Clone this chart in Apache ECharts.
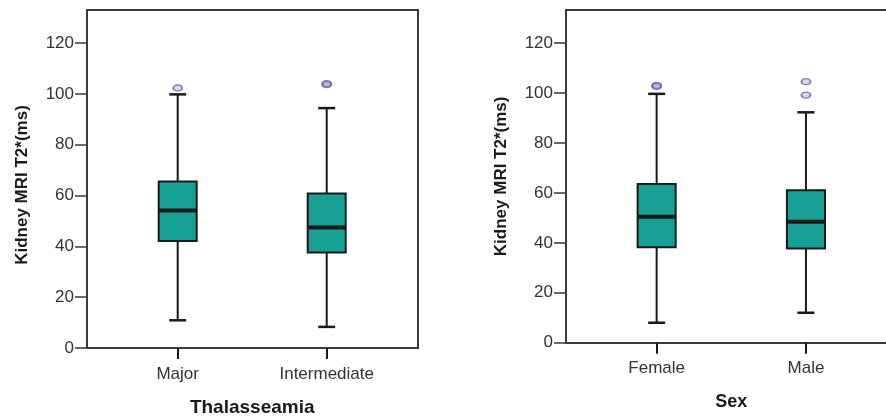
<!DOCTYPE html>
<html>
<head>
<meta charset="utf-8">
<script src="https://cdn.jsdelivr.net/npm/echarts@6/dist/echarts.min.js"></script>
<style>
html,body{margin:0;padding:0;background:#fff;}
#chart{width:886px;height:418px;}
</style>
</head>
<body>
<div id="chart"></div>
<script>
// ---- Data ----
const yTickValues = [0, 20, 40, 60, 80, 100, 120];
const yAxisTitle = 'Kidney MRI T2*(ms)';

const leftTitle = 'Thalasseamia';
const leftCategories = ['Major', 'Intermediate'];
// [lower whisker, Q1, median, Q3, upper whisker]
const leftMajor = [10.9, 42.1, 54.1, 65.5, 99.8];
const leftIntermediate = [8.3, 37.6, 47.4, 60.8, 94.4];
// [category index, value]
const leftOutliers = [[0, 102.3], [1, 103.6], [1, 104.0]];

const rightTitle = 'Sex';
const rightCategories = ['Female', 'Male'];
const rightFemale = [8.0, 38.2, 50.5, 63.6, 99.7];
const rightMale = [12.0, 37.7, 48.5, 61.1, 92.3];
const rightOutliers = [[0, 102.7], [0, 103.1], [1, 104.6], [1, 99.2]];

// ---- Styling ----
const FONT = '"Liberation Sans", Arial, sans-serif';
const BOX_FILL = '#17a196';
const LINE = '#1a1a1a';
const FRAME = '#3a3a3a';

function renderBox(params, api) {
  const x = api.value(0);
  const lo = api.value(1), q1 = api.value(2), med = api.value(3), q3 = api.value(4), hi = api.value(5);
  const band = api.size([1, 0])[0];
  const boxW = band * 0.255;
  const capW = band * 0.114;
  const pLo = api.coord([x, lo]);
  const pQ1 = api.coord([x, q1]);
  const pMed = api.coord([x, med]);
  const pQ3 = api.coord([x, q3]);
  const pHi = api.coord([x, hi]);
  const cx = pMed[0];
  const ls = { stroke: LINE, lineWidth: 2 };
  return {
    type: 'group',
    children: [
      { type: 'line', shape: { x1: cx, y1: pHi[1], x2: cx, y2: pQ3[1] }, style: ls },
      { type: 'line', shape: { x1: cx, y1: pQ1[1], x2: cx, y2: pLo[1] }, style: ls },
      { type: 'line', shape: { x1: cx - capW / 2, y1: pHi[1], x2: cx + capW / 2, y2: pHi[1] }, style: { stroke: LINE, lineWidth: 2.5 } },
      { type: 'line', shape: { x1: cx - capW / 2, y1: pLo[1], x2: cx + capW / 2, y2: pLo[1] }, style: { stroke: LINE, lineWidth: 2.5 } },
      { type: 'rect', shape: { x: cx - boxW / 2, y: pQ3[1], width: boxW, height: pQ1[1] - pQ3[1] },
        style: { fill: BOX_FILL, stroke: LINE, lineWidth: 2 } },
      { type: 'line', shape: { x1: cx - boxW / 2, y1: pMed[1], x2: cx + boxW / 2, y2: pMed[1] }, style: { stroke: LINE, lineWidth: 4 } }
    ]
  };
}

function boxData(rows) {
  return rows.map((r, i) => [i].concat(r));
}

const opt = { grid: [], xAxis: [], yAxis: [], series: [] };

function addPanel(cfg) {
  const gFrame = opt.grid.length;
  const gBox = gFrame + 1;
  opt.grid.push({ left: cfg.frameLeft, top: cfg.top, width: cfg.frameWidth, height: cfg.height, show: false,
    containLabel: false, outerBoundsMode: 'none' });
  opt.grid.push({ left: cfg.boxLeft, top: cfg.top, width: cfg.boxWidth, height: cfg.height, show: false,
    containLabel: false, outerBoundsMode: 'none' });

  const frameLine = { show: true, onZero: false, lineStyle: { color: FRAME, width: 2 } };
  opt.xAxis.push({ gridIndex: gFrame, type: 'value', min: 0, max: 1, position: 'bottom',
    axisLine: frameLine, axisTick: { show: false }, axisLabel: { show: false }, splitLine: { show: false } });
  opt.xAxis.push({ gridIndex: gFrame, type: 'value', min: 0, max: 1, position: 'top',
    axisLine: frameLine, axisTick: { show: false }, axisLabel: { show: false }, splitLine: { show: false } });
  const xBoxIdx = opt.xAxis.length;
  opt.xAxis.push({ gridIndex: gBox, type: 'category', data: cfg.categories, boundaryGap: true,
    axisLine: { show: false },
    axisTick: { show: true, alignWithLabel: true, length: 11, lineStyle: { color: LINE, width: 2 } },
    axisLabel: { margin: cfg.labelMargin, fontSize: 17, color: '#333', fontFamily: FONT },
    name: cfg.title, nameLocation: 'middle', nameGap: cfg.nameGap,
    nameTextStyle: { fontSize: cfg.titleSize, fontWeight: 'bold', color: '#1a1a1a', fontFamily: FONT }
  });

  opt.yAxis.push({ gridIndex: gFrame, type: 'value', min: 0, max: cfg.max, interval: 20, position: 'left',
    axisLine: frameLine,
    axisTick: { show: true, length: 12, lineStyle: { color: FRAME, width: 1.5 } },
    splitLine: { show: false },
    axisLabel: { margin: 13, fontSize: 17, color: '#333', fontFamily: FONT, showMaxLabel: false,
      formatter: v => (yTickValues.indexOf(v) >= 0 ? String(v) : '') },
    name: yAxisTitle, nameLocation: 'middle', nameGap: cfg.yNameGap,
    nameTextStyle: { fontSize: 17, fontWeight: 'bold', color: '#1a1a1a', fontFamily: FONT, padding: cfg.yNamePad }
  });
  if (cfg.rightEdge) {
    opt.yAxis.push({ gridIndex: gFrame, type: 'value', min: 0, max: cfg.max, position: 'right',
      axisLine: frameLine, axisTick: { show: false }, axisLabel: { show: false }, splitLine: { show: false } });
  }
  const yBoxIdx = opt.yAxis.length;
  opt.yAxis.push({ gridIndex: gBox, type: 'value', min: 0, max: cfg.max, show: false });

  opt.series.push({ type: 'custom', xAxisIndex: xBoxIdx, yAxisIndex: yBoxIdx, renderItem: renderBox,
    encode: { x: 0, y: [1, 2, 3, 4, 5] }, data: boxData(cfg.boxes), silent: true, z: 3 });
  opt.series.push({ type: 'scatter', xAxisIndex: xBoxIdx, yAxisIndex: yBoxIdx, data: cfg.outliers,
    symbol: 'circle', symbolSize: [9, 6], silent: true, z: 4,
    itemStyle: { color: 'rgba(110,110,190,0.35)', borderColor: '#6464aa', borderWidth: 1.6 } });
}

addPanel({
  frameLeft: 87, frameWidth: 331, boxLeft: 103.2, boxWidth: 298, top: 10, height: 338, max: 133,
  categories: leftCategories, title: leftTitle, titleSize: 19, labelMargin: 18, nameGap: 50,
  boxes: [leftMajor, leftIntermediate], outliers: leftOutliers, rightEdge: true,
  yNameGap: 56, yNamePad: [0, 12, 0, 0]
});
addPanel({
  frameLeft: 566, frameWidth: 330, boxLeft: 582, boxWidth: 298.6, top: 10, height: 332.7, max: 133.3,
  categories: rightCategories, title: rightTitle, titleSize: 18, labelMargin: 17, nameGap: 50,
  boxes: [rightFemale, rightMale], outliers: rightOutliers, rightEdge: false,
  yNameGap: 56, yNamePad: [0, 0, 0, 0]
});

const chart = echarts.init(document.getElementById('chart'), null, { renderer: 'canvas' });
opt.backgroundColor = '#ffffff';
opt.animation = false;
chart.setOption(opt);
</script>
</body>
</html>
